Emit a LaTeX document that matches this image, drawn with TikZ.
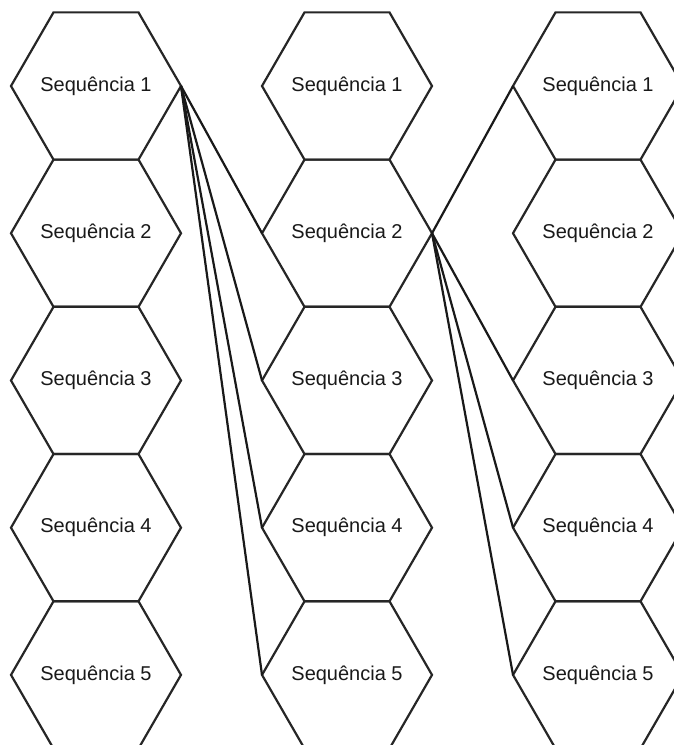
\documentclass[tikz,border=0pt]{standalone}
\usepackage{fontspec}
\setmainfont{Liberation Sans}
\usetikzlibrary{shapes.geometric,positioning}

\begin{document}
\begin{tikzpicture}[
  x=1pt, y=1pt,
  node distance=0pt and 81pt,
  seq/.style={
    draw=black!85,
    line width=2.2pt,
    regular polygon,
    regular polygon sides=6,
    minimum size=170pt,
    inner sep=0pt,
    outer sep=0pt
  },
  every label/.style={font=\fontsize{20}{24}\selectfont, text=black!90, inner sep=0pt},
  link/.style={draw=black!90, line width=2.2pt}
]
  \useasboundingbox (0,0) rectangle (673,-745);

  % first column
  \node[seq, label=center:Sequência 1] (a1) at (96,-86) {};
  \node[seq, below=of a1, label=center:Sequência 2] (a2) {};
  \node[seq, below=of a2, label=center:Sequência 3] (a3) {};
  \node[seq, below=of a3, label=center:Sequência 4] (a4) {};
  \node[seq, below=of a4, label=center:Sequência 5] (a5) {};

  % second column
  \node[seq, right=of a1, label=center:Sequência 1] (b1) {};
  \node[seq, below=of b1, label=center:Sequência 2] (b2) {};
  \node[seq, below=of b2, label=center:Sequência 3] (b3) {};
  \node[seq, below=of b3, label=center:Sequência 4] (b4) {};
  \node[seq, below=of b4, label=center:Sequência 5] (b5) {};

  % third column
  \node[seq, right=of b1, label=center:Sequência 1] (c1) {};
  \node[seq, below=of c1, label=center:Sequência 2] (c2) {};
  \node[seq, below=of c2, label=center:Sequência 3] (c3) {};
  \node[seq, below=of c3, label=center:Sequência 4] (c4) {};
  \node[seq, below=of c4, label=center:Sequência 5] (c5) {};

  \draw[link] (a1.east) -- (b2.west);
  \draw[link] (a1.east) -- (b3.west);
  \draw[link] (a1.east) -- (b4.west);
  \draw[link] (a1.east) -- (b5.west);

  \draw[link] (b2.east) -- (c1.west);
  \draw[link] (b2.east) -- (c3.west);
  \draw[link] (b2.east) -- (c4.west);
  \draw[link] (b2.east) -- (c5.west);
\end{tikzpicture}
\end{document}
